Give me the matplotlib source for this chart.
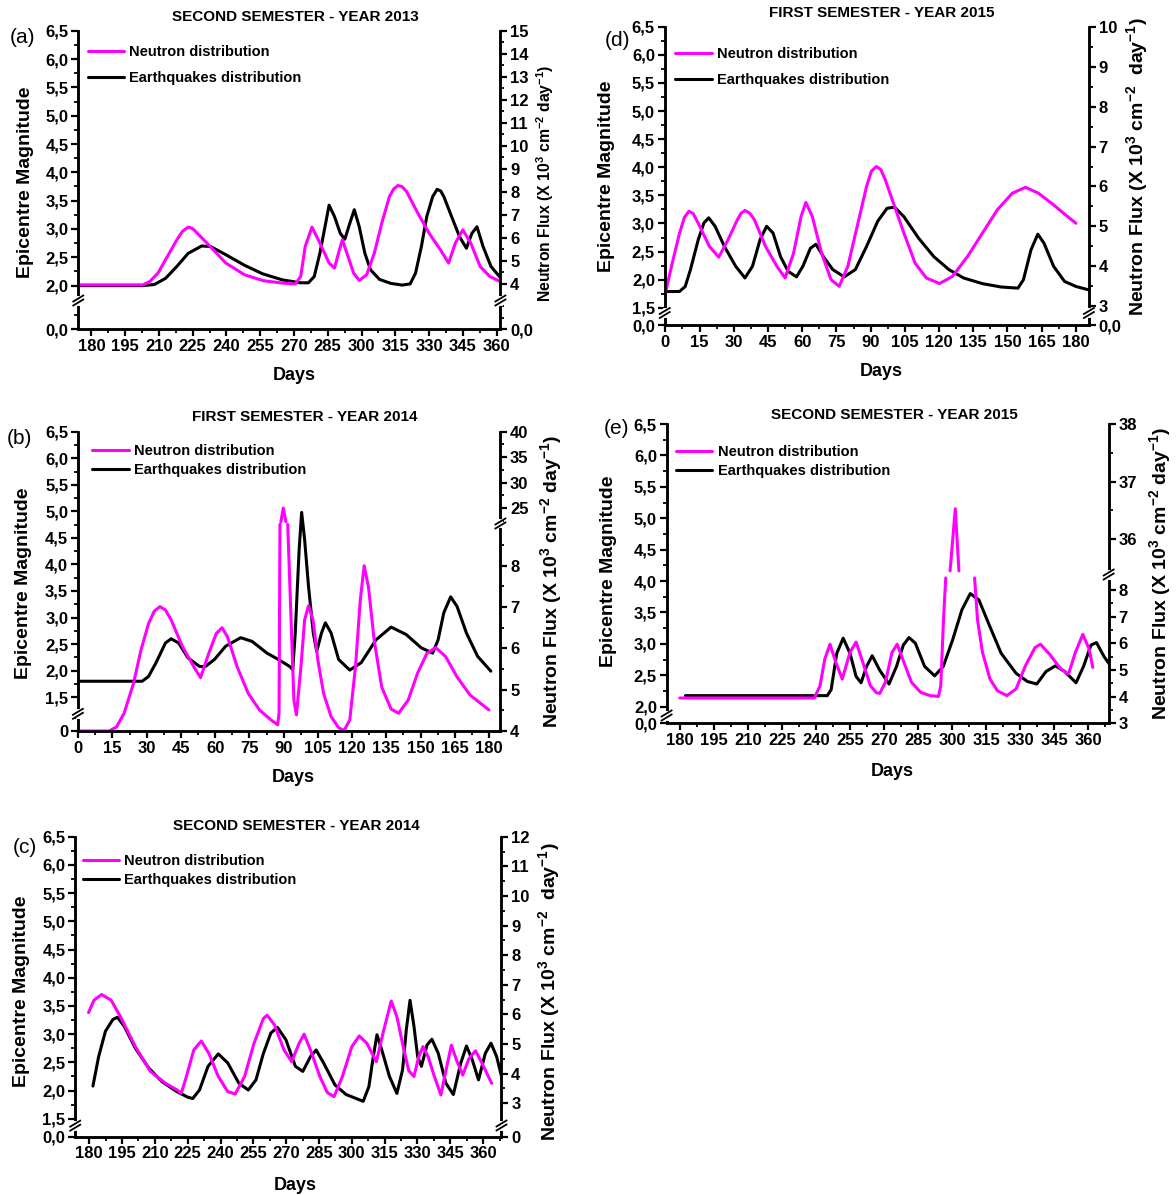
import numpy as np
import matplotlib
matplotlib.use('Agg')
import matplotlib.pyplot as plt
from matplotlib.lines import Line2D

plt.rcParams['font.family'] = ['Liberation Sans', 'DejaVu Sans']
plt.rcParams['font.weight'] = 'bold'
plt.rcParams['axes.labelweight'] = 'bold'
plt.rcParams['mathtext.fontset'] = 'custom'
plt.rcParams['mathtext.rm'] = 'Liberation Sans:bold'
plt.rcParams['mathtext.it'] = 'Liberation Sans:bold'
plt.rcParams['mathtext.bf'] = 'Liberation Sans:bold'
plt.rcParams['mathtext.default'] = 'rm'

W, H = 1176, 1195
MAG = '#ff00ff'
nan = np.nan

# ---- data ----
# (a) second semester 2013
a_eq_d = [174, 203, 208, 213, 218, 223, 229, 233, 240, 248, 256, 265, 273, 276.4, 279, 281.5, 283.5, 285.6, 288, 290.6,
          292.6, 294.8, 296.8, 299, 301.5, 304, 308, 313, 318, 321.6, 324, 326.6, 329, 331.6, 333.6, 335.2, 336.6, 340,
          343.6, 346.6, 349, 351.3, 354, 357.5, 361.7]
a_eq_m = [2.0, 2.0, 2.02, 2.13, 2.34, 2.57, 2.70, 2.69, 2.54, 2.36, 2.21, 2.10, 2.05, 2.05, 2.16, 2.57, 2.98, 3.42, 3.22, 2.92,
          2.82, 3.10, 3.34, 3.04, 2.57, 2.28, 2.11, 2.04, 2.01, 2.03, 2.22, 2.69, 3.22, 3.57, 3.70, 3.67, 3.57, 3.22,
          2.86, 2.66, 2.92, 3.04, 2.69, 2.34, 2.14]
a_nf_d = [174, 203, 206, 209.6, 213.8, 218, 220.5, 223, 224.8, 226.3, 231.3, 239.7, 248, 256.4, 264.7, 270.6, 273, 275, 278,
          281.5, 285.6, 288, 289.8, 291.5, 293.5, 296.5, 299, 302.3, 305.7, 309, 312.4, 314.3, 316.2, 318, 320, 325, 330,
          335, 338.7, 341.7, 345, 348.5, 352.7, 356.9, 361.5]
a_nf_v = [3.95, 3.95, 4.10, 4.46, 5.19, 5.91, 6.28, 6.46, 6.41, 6.27, 5.77, 4.90, 4.39, 4.13, 4.03, 3.99, 4.32, 5.62, 6.46,
          5.77, 4.90, 4.68, 5.33, 5.91, 5.33, 4.46, 4.14, 4.39, 5.33, 6.63, 7.79, 8.12, 8.27, 8.22, 8.01, 7.07, 6.20,
          5.48, 4.90, 5.77, 6.34, 5.77, 4.75, 4.32, 4.10]

# (b) first semester 2014
b_eq_d = [0, 28, 30.8, 34.1, 38.2, 40.7, 44, 48.1, 53.1, 55.5, 59.7, 64.6, 71.2, 76.2, 82.7, 87.7, 92.6, 94, 95.1, 96.8,
          97.9, 99.2, 100.9, 103, 104.5, 106.6, 108.3, 110.8, 114.1, 119, 124, 130.5, 137.1, 143.7, 150.3, 155.3, 157.7,
          160.2, 163.2, 166, 170.1, 175, 180.8]
b_eq_m = [1.80, 1.80, 1.89, 2.15, 2.52, 2.60, 2.52, 2.24, 2.08, 2.07, 2.21, 2.46, 2.62, 2.55, 2.33, 2.21, 2.08, 2.02, 2.71,
          4.28, 4.98, 4.47, 3.59, 2.71, 2.36, 2.71, 2.90, 2.71, 2.21, 2.01, 2.15, 2.58, 2.82, 2.68, 2.43, 2.33, 2.58,
          3.09, 3.39, 3.21, 2.71, 2.27, 1.99]
b_nf_d = [0, 13.5, 16.8, 20.1, 24.2, 27.5, 30.8, 33.3, 35.8, 38.2, 40.7, 45.7, 50.6, 53.6, 57.2, 60.5, 63, 65.4, 69.6, 74.5,
          79.4, 84.4, 87.4, 88.0, 88.4, 88.6, 88.8, 89.85, 91.0, 91.4, 91.8, 94.5, 95.6, 97.6, 99.2, 100.9, 102.9, 105,
          107.5, 110.8, 114.1, 116.5, 119, 121.5, 123.6, 125.3, 127.2, 129.7, 133, 137.1, 140.4, 144.6, 148.7, 152.8,
          156.6, 161, 166, 171.7, 180]
b_nf_v = [4.0, 4.0, 4.10, 4.43, 5.15, 5.96, 6.60, 6.90, 7.01, 6.93, 6.69, 6.04, 5.56, 5.29, 5.88, 6.36, 6.50, 6.28, 5.56, 4.91,
          4.51, 4.27, 4.15, 4.43, 9.0, nan, 22.3, 25.0, 22.3, nan, 9.0, 4.75, 4.39, 5.56, 6.69, 7.03, 6.69, 5.72,
          4.91, 4.35, 4.08, 4.01, 4.27, 5.56, 7.17, 8.00, 7.48, 6.19, 5.06, 4.53, 4.43, 4.75, 5.40, 5.88,
          6.02, 5.80, 5.31, 4.87, 4.51]

# (c) second semester 2014
c_eq_d = [181.7, 184.3, 187.4, 190.8, 192.9, 196, 201.1, 207.2, 213.2, 220.1, 225.2, 227.3, 230.4, 234.3, 239, 243.3, 248.4,
          252.7, 256.2, 259.6, 263, 266, 269.9, 274.2, 277.6, 281.1, 283.7, 287.1, 292.3, 297.4, 302.6, 305.2, 307.8,
          309.8, 311.5, 313.7, 317.2, 320.6, 323.2, 324.9, 326.6, 328.4, 330.1, 331.8, 334.4, 336.6, 339.5, 343, 346.4,
          349.8, 352.4, 355, 357.9, 361, 363.6, 366.2, 368.4]
c_eq_m = [2.08, 2.60, 3.05, 3.26, 3.30, 3.14, 2.75, 2.40, 2.16, 1.98, 1.88, 1.86, 2.01, 2.43, 2.65, 2.49, 2.13,
          2.01, 2.19, 2.66, 3.02, 3.12, 2.90, 2.43, 2.34, 2.60, 2.72, 2.49, 2.10, 1.93, 1.85, 1.81, 2.07,
          2.60, 2.99, 2.72, 2.25, 1.95, 2.37, 3.08, 3.60, 3.14, 2.60, 2.43, 2.81, 2.91, 2.66, 2.13, 1.93,
          2.49, 2.79, 2.55, 2.19, 2.66, 2.84, 2.60, 2.25]
c_nf_d = [179.7, 182.2, 185.7, 190, 194.3, 201.1, 208, 214.9, 220.1, 222.1, 224.4, 227.8, 231.2, 234.7, 239, 243.3, 246.7,
          251, 255.3, 259.6, 261.3, 264.7, 269, 272.5, 275.9, 278.2, 281.1, 285.4, 288.8, 291.9, 295.7, 300, 303.4, 306.9,
          311.2, 314.6, 318, 320.6, 323.5, 326, 328.4, 330.5, 332.5, 335, 337.5, 340.7, 343, 345.5, 347.8, 350.7, 353.5,
          356.5, 359.5, 363.9]
c_nf_v = [6.06, 6.48, 6.67, 6.48, 5.92, 4.91, 4.07, 3.67, 3.45, 3.34, 3.90, 4.80, 5.10, 4.68, 3.90, 3.39, 3.31,
          3.90, 5.02, 5.86, 5.97, 5.64, 4.80, 4.40, 5.02, 5.33, 4.80, 3.90, 3.36, 3.22, 3.90, 4.91, 5.27, 5.02,
          4.40, 5.47, 6.45, 5.92, 4.90, 4.10, 3.90, 4.55, 4.91, 4.55, 3.95, 3.28, 4.10, 4.96, 4.46, 3.95, 4.50,
          4.77, 4.35, 3.67]

# (d) first semester 2015
d_eq_d = [0, 6.2, 8.7, 11, 14.4, 16.9, 19, 21.8, 25.9, 30.8, 34.9, 38.2, 41.5, 44.4, 47.2, 50.5, 53.8, 57.5, 60.3, 63.6,
          66, 69.3, 73.4, 78.4, 83.3, 88.2, 93.1, 97.2, 100.5, 104.6, 111, 117.7, 124.3, 130.8, 139, 147.2, 154.6, 157,
          160.3, 163.3, 166, 170.2, 175, 180, 185.5]
d_eq_m = [1.79, 1.79, 1.88, 2.18, 2.71, 3.01, 3.10, 2.95, 2.59, 2.24, 2.03, 2.24, 2.71, 2.95, 2.83, 2.41, 2.15, 2.05, 2.24,
          2.56, 2.63, 2.41, 2.18, 2.05, 2.18, 2.59, 3.04, 3.27, 3.29, 3.12, 2.74, 2.41, 2.18, 2.03, 1.93, 1.87, 1.85,
          2.0, 2.53, 2.81, 2.65, 2.24, 1.97, 1.88, 1.82]
d_nf_d = [0, 3, 6.2, 8.3, 10.3, 12.2, 14.4, 19.3, 23.4, 27.5, 31.6, 33.2, 34.9, 37, 39, 43.9, 48.9, 52.5, 56.2, 59.5, 61.6,
          64.4, 68.5, 72.6, 76.2, 80, 84.1, 88.2, 90.3, 92.5, 94.5, 96.4, 100.5, 104.6, 109.5, 114.4, 120.2, 125.9, 132.5,
          139, 145.6, 152.1, 157.9, 163.6, 170.2, 175, 180]
d_nf_v = [3.33, 4.08, 4.83, 5.22, 5.38, 5.32, 5.08, 4.50, 4.23, 4.67, 5.17, 5.33, 5.40, 5.33, 5.17, 4.50, 4.00, 3.71, 4.33,
          5.25, 5.60, 5.25, 4.33, 3.67, 3.50, 4.00, 5.00, 6.00, 6.38, 6.50, 6.42, 6.17, 5.50, 4.83, 4.08, 3.71, 3.57,
          3.75, 4.25, 4.83, 5.42, 5.83, 5.98, 5.83, 5.54, 5.31, 5.08]

# (e) second semester 2015
e_eq_d = [182.5, 245, 246.7, 249.2, 252, 255, 257.7, 259.9, 262.3, 264.8, 268.1, 272.2, 275.5, 278.5, 281, 283.8, 287.9,
          292.3, 296.1, 300.2, 304.3, 308, 311.8, 316.7, 321.6, 328.2, 333.2, 337.3, 341.4, 345.5, 349.6, 354.6, 357.9,
          361.2, 363.6, 366.9, 369]
e_eq_m = [2.175, 2.175, 2.27, 2.85, 3.09, 2.85, 2.48, 2.38, 2.64, 2.81, 2.58, 2.36, 2.64, 2.98, 3.10, 3.01, 2.64,
          2.49, 2.64, 3.06, 3.54, 3.80, 3.70, 3.27, 2.85, 2.53, 2.40, 2.36, 2.56, 2.65, 2.56, 2.38, 2.64,
          2.98, 3.02, 2.80, 2.69]
e_nf_d = [180, 239.3, 241.8, 243.9, 246.2, 248.8, 251.6, 255, 257.7, 260.7, 264, 266.5, 268.1, 270.6, 273.5, 275.8, 278.8,
          282.1, 286.2, 290.3, 294, 295, 296.2, 297.2, 298.2, 299.1, 301.4, 303.0, 306, 309.9, 311.2, 313.4, 316.7, 320,
          324.1, 328.2, 332.3, 336.5, 338.9, 343, 348, 351.3, 354.3, 357.6, 360.4, 362]
e_nf_v = [3.95, 3.95, 4.41, 5.41, 5.97, 5.28, 4.66, 5.66, 6.05, 5.28, 4.41, 4.16, 4.12, 4.54, 5.66, 5.97, 5.28,
          4.54, 4.16, 4.04, 4.01, 4.41, 6.88, 8.46, nan, 35.45, 36.53, 35.45, nan, 8.46, 6.88, 5.66, 4.66, 4.22,
          4.04, 4.29, 5.16, 5.84, 5.97, 5.59, 5.03, 4.85, 5.66, 6.34, 5.78, 5.10]

titles = ['SECOND SEMESTER - YEAR 2013', 'FIRST SEMESTER - YEAR 2014', 'SECOND SEMESTER - YEAR 2014',
          'FIRST SEMESTER - YEAR 2015', 'SECOND SEMESTER - YEAR 2015']
letters = ['(a)', '(b)', '(c)', '(d)', '(e)']
legend_labels = ['Neutron distribution', 'Earthquakes distribution']


def comma(v):
    return ('%.1f' % v).replace('.', ',')


def broken_scale(anchors):
    # anchors: (value, pixel row) pairs from bottom to top; pairs that sit on the same row make the break
    v = np.array([a[0] for a in anchors], float)
    p = -np.array([a[1] for a in anchors], float)

    def fwd(x):
        x = np.asarray(x, float)
        out = np.interp(x, v, p)
        out = np.where(x < v[0], p[0] + (x - v[0]) * (p[1] - p[0]) / (v[1] - v[0]), out)
        out = np.where(x > v[-1], p[-1] + (x - v[-1]) * (p[-1] - p[-2]) / (v[-1] - v[-2]), out)
        return np.where(np.isnan(x), np.nan, out)

    def inv(y):
        y = np.asarray(y, float)
        out = np.interp(y, p, v)
        out = np.where(y < p[0], v[0] + (y - p[0]) * (v[1] - v[0]) / (p[1] - p[0]), out)
        out = np.where(y > p[-1], v[-1] + (y - p[-1]) * (v[-1] - v[-2]) / (p[-1] - p[-2]), out)
        return np.where(np.isnan(y), np.nan, out)

    return fwd, inv


fig = plt.figure(figsize=(W / 100, H / 100), dpi=100)


def fig_line(xs, ys, **kw):
    fig.add_artist(Line2D([x / W for x in xs], [1 - y / H for y in ys], transform=fig.transFigure,
                          clip_on=False, **kw))


def draw_break(X, Y):
    fig_line([X, X], [Y - 2.5, Y + 2.5], color='white', lw=3.5, zorder=20)
    fig_line([X - 5, X + 5], [Y + 1.5, Y - 4.5], color='black', lw=1.3, zorder=21)
    fig_line([X - 5, X + 5], [Y + 5.5, Y - 0.5], color='black', lw=1.3, zorder=21)


def panel(L, R, T, B, xlim, xticks, lanch, ranch, lt, ll, lmin, rt, rl, rmin,
          eq_d, eq_m, nf_d, nf_v, idx, title_xy, letter_xy, ylab_xy, rlab_xy, rlab_size, rlab,
          days_xy, leg_xy, leg_space):
    ax = fig.add_axes([L / W, 1 - B / H, (R - L) / W, (B - T) / H])
    ax2 = ax.twinx()

    def fx(X):
        return (X - L) / (R - L)

    def fy(Y):
        return (B - Y) / (B - T)

    ax.set_yscale('function', functions=broken_scale(lanch))
    ax2.set_yscale('function', functions=broken_scale(ranch))
    ax.set_ylim(lanch[0][0], lanch[-1][0])
    ax2.set_ylim(ranch[0][0], ranch[-1][0])
    ax.set_xlim(*xlim)

    le, = ax.plot(eq_d, eq_m, color='black', lw=2.2, solid_joinstyle='round', solid_capstyle='round')
    ln, = ax2.plot(nf_d, nf_v, color=MAG, lw=2.2, solid_joinstyle='round', solid_capstyle='round')

    ax.set_xticks(xticks)
    ax.set_xticks([t + 7.5 for t in xticks[:-1]] + ([xticks[0] - 7.5] if xticks[0] - 7.5 > xlim[0] else [])
                  + ([xticks[-1] + 7.5] if xticks[-1] + 7.5 < xlim[1] else []), minor=True)
    ax.set_yticks(lt, ll)
    ax.set_yticks(lmin, minor=True)
    ax2.set_yticks(rt, rl)
    ax2.set_yticks(rmin, minor=True)

    for a in (ax, ax2):
        a.spines['top'].set_visible(False)
        for s in ('left', 'right', 'bottom'):
            a.spines[s].set_linewidth(1.8)
        a.tick_params(which='major', direction='out', length=5, width=1.6, labelsize=12, pad=2)
        a.tick_params(which='minor', direction='out', length=3, width=1.3)
        for t in a.get_xticklabels() + a.get_yticklabels():
            t.set_fontweight('bold')
    ax2.tick_params(axis='x', which='both', bottom=False, labelbottom=False)

    ax.set_ylabel('Epicentre Magnitude', fontsize=14, fontweight='bold', va='center')
    ax.yaxis.set_label_coords(fx(ylab_xy[0]), fy(ylab_xy[1]))
    ax2.set_ylabel(rlab, fontsize=rlab_size, fontweight='bold', rotation=90, va='center')
    ax2.yaxis.set_label_coords(fx(rlab_xy[0]), fy(rlab_xy[1]))
    ax.set_xlabel('Days', fontsize=13, fontweight='bold', va='center')
    ax.xaxis.set_label_coords(fx(days_xy[0]), fy(days_xy[1]))

    fig.text(title_xy[0] / W, 1 - title_xy[1] / H, titles[idx], fontsize=11, fontweight='bold',
             ha='center', va='center')
    fig.text(letter_xy[0] / W, 1 - letter_xy[1] / H, letters[idx], fontsize=15, fontweight='normal',
             ha='center', va='center')

    leg = ax2.legend([ln, le], legend_labels, loc='center left',
                     bbox_to_anchor=(fx(leg_xy[0]), fy(leg_xy[1])),
                     frameon=False, fontsize=10.5, borderpad=0, borderaxespad=0, handlelength=2.5,
                     handletextpad=0.35, labelspacing=leg_space)
    for t in leg.get_texts():
        t.set_fontweight('bold')

    # break marks on both spines
    for X, anch in ((L, lanch), (R, ranch)):
        Y = 0.5 * (anch[1][1] + anch[2][1])
        draw_break(X, Y)
    return ax, ax2


RL = r'Neutron Flux (X 10$^{3}$ cm$^{-2}$ day$^{-1}$)'
RL2 = r'Neutron Flux (X 10$^{3}$ cm$^{-2}$  day$^{-1}$)'
sem2 = list(range(180, 361, 15))
sem1 = list(range(0, 181, 15))


def steps(a, b, s):
    return list(np.round(np.arange(a, b + 1e-9, s), 3))


# (a)
panel(78.3, 500.4, 30.7, 329, (174.2, 361.7), sem2,
      [(0, 329), (0.51, 300.2), (1.75, 299.8), (6.5, 30.7)],
      [(0, 329), (1.26, 300.2), (3.30, 299.8), (15, 30.7)],
      [0] + steps(2.0, 6.5, 0.5), ['0,0'] + [comma(v) for v in steps(2.0, 6.5, 0.5)],
      [0.25] + steps(2.25, 6.25, 0.5),
      [0] + list(range(4, 16)), ['0,0'] + [str(v) for v in range(4, 16)],
      [0.5, 1.0] + steps(4.5, 14.5, 1.0),
      a_eq_d, a_eq_m, a_nf_d, a_nf_v, 0, (295.3, 16.7), (22.6, 37.5), (25.6, 182.5), (545.5, 183), 11.3, RL,
      (294, 375), (87.8, 64.85), 0.8)

# (b)
panel(77.9, 500.4, 431.7, 731, (-0.15, 185), sem1,
      [(0, 731), (0.33, 713.5), (1.2, 713.1), (6.5, 431.7)],
      [(4, 731), (9.03, 523.2), (22.1, 522.8), (40, 431.7)],
      [0] + steps(1.5, 6.5, 0.5), ['0'] + [comma(v) for v in steps(1.5, 6.5, 0.5)],
      [0.25] + steps(1.75, 6.25, 0.5),
      [4, 5, 6, 7, 8, 25, 30, 35, 40], ['4', '5', '6', '7', '8', '25', '30', '35', '40'],
      steps(4.5, 8.5, 1.0) + [22.5, 27.5, 32.5, 37.5],
      b_eq_d, b_eq_m, b_nf_d, b_nf_v, 1, (304.7, 417.3), (19.4, 439), (23.3, 583), (551, 581.7), 14, RL,
      (293, 777), (92.2, 460.5), 0.37)

# (c)
panel(75.2, 501.5, 836.7, 1136.7, (173.6, 368.4), sem2,
      [(0, 1136.7), (0.2, 1125.4), (1.39, 1125), (6.5, 836.7)],
      [(0, 1136.7), (0.39, 1125.2), (2.27, 1124.8), (12, 836.7)],
      [0] + steps(1.5, 6.5, 0.5), ['0,0'] + [comma(v) for v in steps(1.5, 6.5, 0.5)],
      steps(1.75, 6.25, 0.5),
      [0] + list(range(3, 13)), ['0'] + [str(v) for v in range(3, 13)],
      steps(3.5, 11.5, 1.0),
      c_eq_d, c_eq_m, c_nf_d, c_nf_v, 2, (296.5, 825.7), (24.5, 847.5), (21.8, 991.7), (549, 992), 14, RL2,
      (295, 1185), (82.8, 870.8), 0.37)

# (d)
panel(664.7, 1088.9, 26.7, 325, (-0.3, 185.7), sem1,
      [(0, 325), (0.22, 312.7), (1.42, 312.3), (6.5, 26.7)],
      [(0, 325), (0.31, 312.7), (2.85, 312.3), (10, 26.7)],
      [0] + steps(1.5, 6.5, 0.5), ['0,0'] + [comma(v) for v in steps(1.5, 6.5, 0.5)],
      steps(1.75, 6.25, 0.5),
      [0] + list(range(3, 11)), ['0,0'] + [str(v) for v in range(3, 11)],
      steps(3.5, 9.5, 1.0),
      d_eq_d, d_eq_m, d_nf_d, d_nf_v, 3, (881.5, 12.7), (617.3, 41), (606.8, 175.8), (1137.5, 166.7), 14, RL2,
      (881.5, 371.7), (675.2, 66.8), 0.8)

# (e)
panel(666.6, 1108.7, 424, 723.3, (174.2, 369), sem2,
      [(0, 723.3), (0.13, 715.2), (1.87, 714.8), (6.5, 424)],
      [(3, 723.3), (8.6, 574.2), (35.4, 573.8), (38, 424)],
      [0] + steps(2.0, 6.5, 0.5), ['0,0'] + [comma(v) for v in steps(2.0, 6.5, 0.5)],
      steps(2.25, 6.25, 0.5),
      [3, 4, 5, 6, 7, 8, 36, 37, 38], ['3', '4', '5', '6', '7', '8', '36', '37', '38'],
      steps(3.5, 7.5, 1.0) + [36.5, 37.5],
      e_eq_d, e_eq_m, e_nf_d, e_nf_v, 4, (894.7, 415), (616.7, 428.5), (608.7, 571.7), (1160, 573), 14, RL,
      (892, 772), (676, 461.8), 0.37)

fig.savefig('out.png', dpi=100)
